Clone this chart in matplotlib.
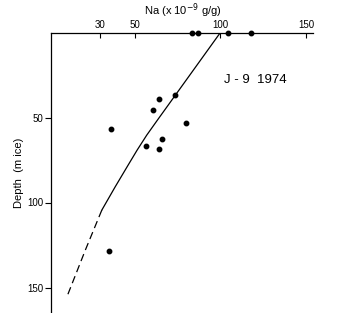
import matplotlib
matplotlib.use("Agg")
import matplotlib.pyplot as plt

# Data
na_points = [83.5, 87.0, 104.6, 118.0, 36.3, 60.6, 64.1, 73.4, 79.9, 56.7, 66.2, 64.1, 35.1]
depth_points = [0, 0, 0, 0, 56.9, 45.7, 39.4, 36.7, 53.5, 66.7, 62.8, 68.6, 128.6]

curve_na = [100, 63.2, 57.0, 51.4, 46.1, 38.6, 30.8]
curve_depth = [0, 51.6, 60.4, 69.2, 78.1, 90.8, 104.5]
dash_na = [30.8, 21.2, 10.6]
dash_depth = [104.5, 128.0, 155.1]

xticks = [30, 50, 100, 150]
yticks = [50, 100, 150]

plt.rcParams['font.family'] = ['Liberation Sans', 'DejaVu Sans']

fig = plt.figure(figsize=(3.5, 3.13), dpi=100)
W, H = 350, 313
ax = fig.add_axes([50.7 / W, 0, (313 - 50.7) / W, (313 - 32.5) / H])

ax.plot(curve_na, curve_depth, color='black', lw=0.9, solid_joinstyle='round')
ax.plot(dash_na, dash_depth, color='black', lw=0.9, dashes=(6, 3.5))
ax.plot(na_points, depth_points, 'o', color='black', ms=3.2, clip_on=False, zorder=5)

ax.set_xlim(1, 154)
ax.set_ylim(165, 0)

ax.xaxis.tick_top()
ax.set_xticks(xticks)
ax.set_yticks(yticks)
ax.tick_params(axis='x', direction='in', length=3.5, width=0.8, pad=2, labelsize=7)
ax.tick_params(axis='y', direction='out', length=4, width=0.8, pad=1.5, labelsize=7)

for s in ['right', 'bottom']:
    ax.spines[s].set_visible(False)
for s in ['top', 'left']:
    ax.spines[s].set_linewidth(0.9)

fig.text(183 / W, 1 - 11 / H, 'Na (x 10$^{-9}$ g/g)', ha='center', va='center', fontsize=8)
fig.text(19 / W, 1 - 173 / H, 'Depth  (m ice)', ha='center', va='center', rotation=90, fontsize=8)
ax.text(0.78, 0.83, 'J - 9  1974', transform=ax.transAxes, ha='center', va='center', fontsize=9.5)

fig.savefig('out.png', dpi=100)
